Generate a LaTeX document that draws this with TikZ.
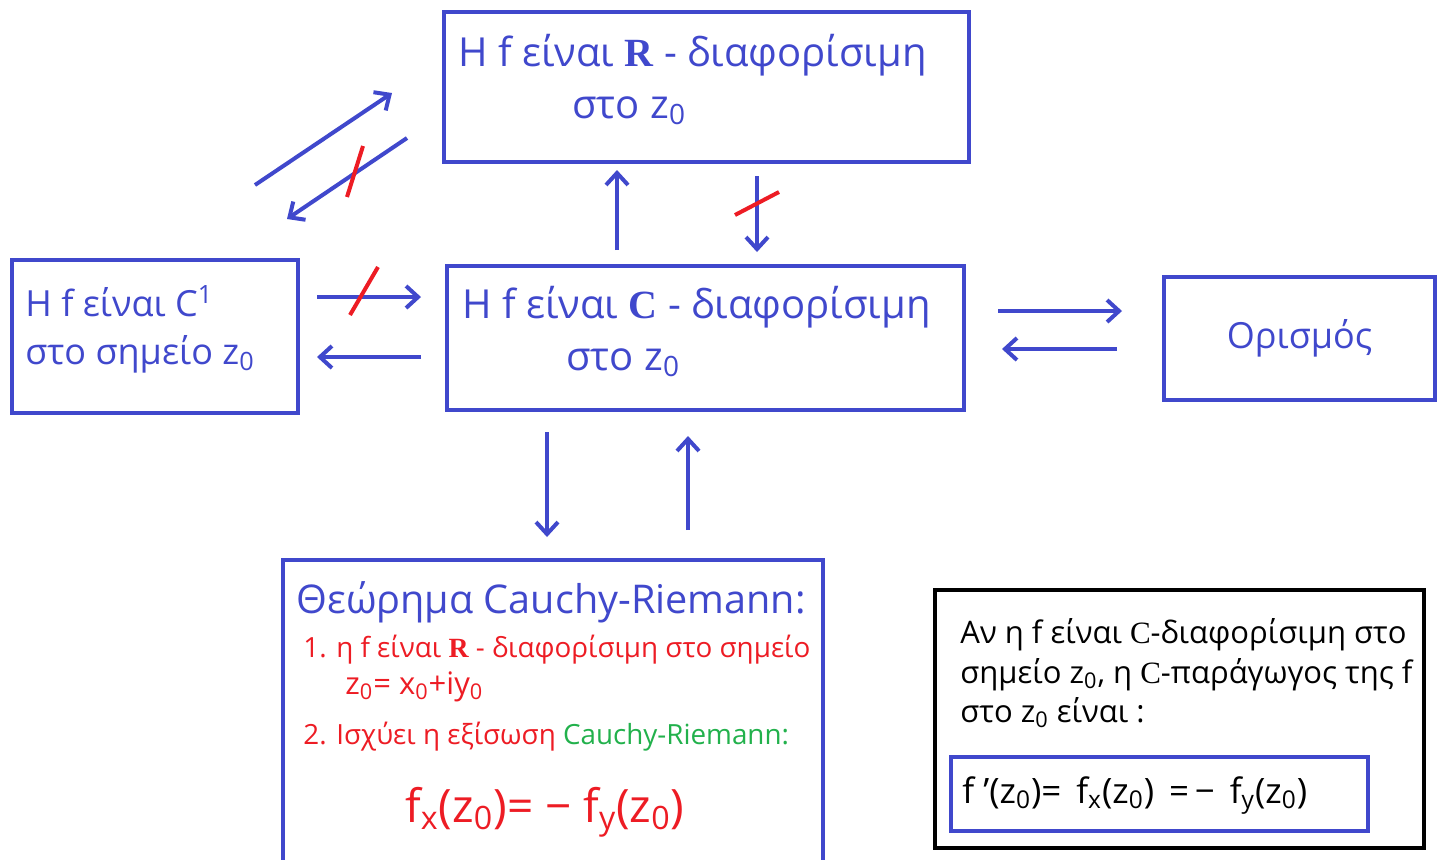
\documentclass[tikz,border=0pt]{standalone}
\usepackage{fontspec}
\setmainfont{Open Sans}
\newfontfamily\romanfont{Liberation Serif}
\usetikzlibrary{arrows.meta}
\definecolor{penblue}{RGB}{64,72,204}
\definecolor{penred}{RGB}{237,28,36}
\definecolor{pengreen}{RGB}{34,177,76}
\newcommand{\zo}{z\textsubscript{0}}
\newcommand{\Rbold}{{\romanfont\bfseries R}}
\newcommand{\Cbold}{{\romanfont\bfseries C}}
\newcommand{\Croman}{{\romanfont C}}

\begin{document}
\begin{tikzpicture}[x=0.5pt,y=-0.5pt]
\tikzset{
  box/.style={draw=penblue,line width=2pt,anchor=north west,inner sep=0pt},
  notebox/.style={box,draw=black},
  txt/.style={anchor=base west,inner sep=0pt,text=penblue,font=\fontsize{18}{22}\selectfont},
  bigtxt/.style={txt,font=\fontsize{20}{24}\selectfont},
  smalltxt/.style={txt,text=penred,font=\fontsize{13.9}{16}\selectfont},
  notetxt/.style={txt,text=black,font=\fontsize{15.5}{18}\selectfont},
  implies/.style={penblue,line width=2pt,-{Straight Barb[length=6pt,width=11pt]}},
  negate/.style={penred,line width=2pt}
}
\useasboundingbox (0,0) rectangle (1444,859);
% boxes
\node[box,minimum width=262.5pt,minimum height=75pt] (boxR) at (442,10) {};
\node[box,minimum width=143pt,minimum height=76.5pt] (boxCone) at (10,258) {};
\node[box,minimum width=258.5pt,minimum height=72pt] (boxC) at (445,264) {};
\node[box,minimum width=135.5pt,minimum height=61.5pt] (boxDef) at (1162,275) {};
\node[box,minimum width=270pt,minimum height=156pt] (boxCR) at (281,558) {};
\node[notebox,minimum width=244.5pt,minimum height=129pt] (boxNote) at (933,588) {};
\node[box,minimum width=208.5pt,minimum height=37pt] (boxFormula) at (949,755) {};
% texts
\node[bigtxt] (tR1) at (458,66) {Η f είναι \Rbold{} - διαφορίσιμη};
\node[bigtxt] (tR2) at (572,118) {στο \zo};
\node[txt] (tCone1) at (25,316) {Η f είναι C\textsuperscript{1}};
\node[txt] (tCone2) at (25,364) {στο σημείο \zo};
\node[bigtxt] (tC1) at (462,318) {Η f είναι \Cbold{} - διαφορίσιμη};
\node[bigtxt] (tC2) at (566,370) {στο \zo};
\node[txt,anchor=center] (tDef) at (boxDef.center) {Ορισμός};
\node[txt,font=\fontsize{19.8}{23}\selectfont] (tCR0) at (296,613) {Θεώρημα Cauchy-Riemann:};
\node[smalltxt] (tCR1) at (303,657) {1. η f είναι \Rbold{} - διαφορίσιμη στο σημείο};
\node[smalltxt,font=\fontsize{15.5}{18}\selectfont] (tCR2) at (345,694) {\zo= x\textsubscript{0}+iy\textsubscript{0}};
\node[smalltxt] (tCR3) at (303,744) {2. Ισχύει η εξίσωση \textcolor{pengreen}{Cauchy-Riemann:}};
\node[smalltxt,font=\fontsize{23}{27}\selectfont] (tCR4) at (405,822) {f\textsubscript{x}(\zo)= − f\textsubscript{y}(\zo)};
\node[notetxt] (tNote1) at (960,643) {Αν η f είναι \Croman-διαφορίσιμη στο};
\node[notetxt] (tNote2) at (960,683) {σημείο \zo, η \Croman-παράγωγος της f};
\node[notetxt] (tNote3) at (960,722) {στο \zo{} είναι :};
\node[notetxt,font=\fontsize{17.5}{20}\selectfont] (tFormula) at (962,803) {f ’(\zo)= \,f\textsubscript{x}(\zo) \,=\,− \,f\textsubscript{y}(\zo)};
% arrow ends
\coordinate (dA1) at (255,185);  \coordinate (dA2) at (392,93);
\coordinate (dB1) at (407,138);  \coordinate (dB2) at (287,219);
\coordinate (dX1) at (347,197);  \coordinate (dX2) at (363,146);
\coordinate (vA1) at (617,250);  \coordinate (vA2) at (617,170);
\coordinate (vB1) at (757,176);  \coordinate (vB2) at (757,252);
\coordinate (vX1) at (735,215);  \coordinate (vX2) at (779,192);
\coordinate (hA1) at (317,297);  \coordinate (hA2) at (421,297);
\coordinate (hB1) at (421,357);  \coordinate (hB2) at (317,357);
\coordinate (hX1) at (350,315);  \coordinate (hX2) at (378,267);
\coordinate (rA1) at (998,311);  \coordinate (rA2) at (1122,311);
\coordinate (rB1) at (1117,349); \coordinate (rB2) at (1002,349);
\coordinate (bA1) at (547,432);  \coordinate (bA2) at (547,537);
\coordinate (bB1) at (688,530);  \coordinate (bB2) at (688,436);
% arrows
\draw[implies] (dA1) -- (dA2);
\draw[implies] (dB1) -- (dB2);
\draw[negate] (dX1) -- (dX2);
\draw[implies] (vA1) -- (vA2);
\draw[implies] (vB1) -- (vB2);
\draw[negate] (vX1) -- (vX2);
\draw[implies] (hA1) -- (hA2);
\draw[implies] (hB1) -- (hB2);
\draw[negate] (hX1) -- (hX2);
\draw[implies] (rA1) -- (rA2);
\draw[implies] (rB1) -- (rB2);
\draw[implies] (bA1) -- (bA2);
\draw[implies] (bB1) -- (bB2);
\end{tikzpicture}
\end{document}
